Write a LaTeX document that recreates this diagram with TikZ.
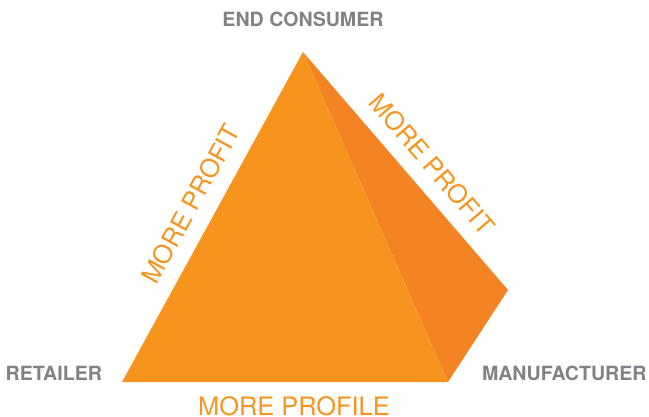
\documentclass[tikz,border=0pt]{standalone}
\usepackage{fontspec}
\setmainfont{TeX Gyre Heros}
\usetikzlibrary{positioning}

\definecolor{facefront}{HTML}{F7941E}
\definecolor{faceside}{HTML}{F48423}
\definecolor{labelgray}{HTML}{808285}

\begin{document}
\begin{tikzpicture}[
		x=1pt, y=-1pt,
		every node/.style={inner sep=0pt, outer sep=0pt},
		party/.style={text=labelgray, font=\bfseries\fontsize{19.6}{19.6}\selectfont},
		gain/.style={text=facefront, font=\fontsize{25.4}{25.4}\selectfont},
		face/.style={draw=none}
		]
		\useasboundingbox (0,0) rectangle (649,417);
		% corners of the pyramid
		\coordinate (apex) at (303,52);
		\coordinate (retail) at (122,382);
		\coordinate (front) at (448,382);
		\coordinate (back) at (508,290);

		% the two faces
		\fill[face, faceside] (apex) -- (back) -- (front) -- cycle;
		\fill[face, facefront] (apex) -- (front) -- (retail) -- cycle;

		% parties at the corners
		\node[party, anchor=base] (consumer) at (303,27) {END CONSUMER};
		\node[party, anchor=base east] (retailer) at (102,381) {RETAILER};
		\node[party, anchor=base west] (maker) at (482,381) {MANUFACTURER};

		% along the edges
		\node[gain, rotate=61.25] (profitleft) at (191,204) {MORE PROFIT};
		\node[gain, rotate=-49.3] (profitright) at (432,164) {MORE PROFIT};
		\node[gain, anchor=base] (profile) at (294,415) {MORE PROFILE};
	\end{tikzpicture}
\end{document}
